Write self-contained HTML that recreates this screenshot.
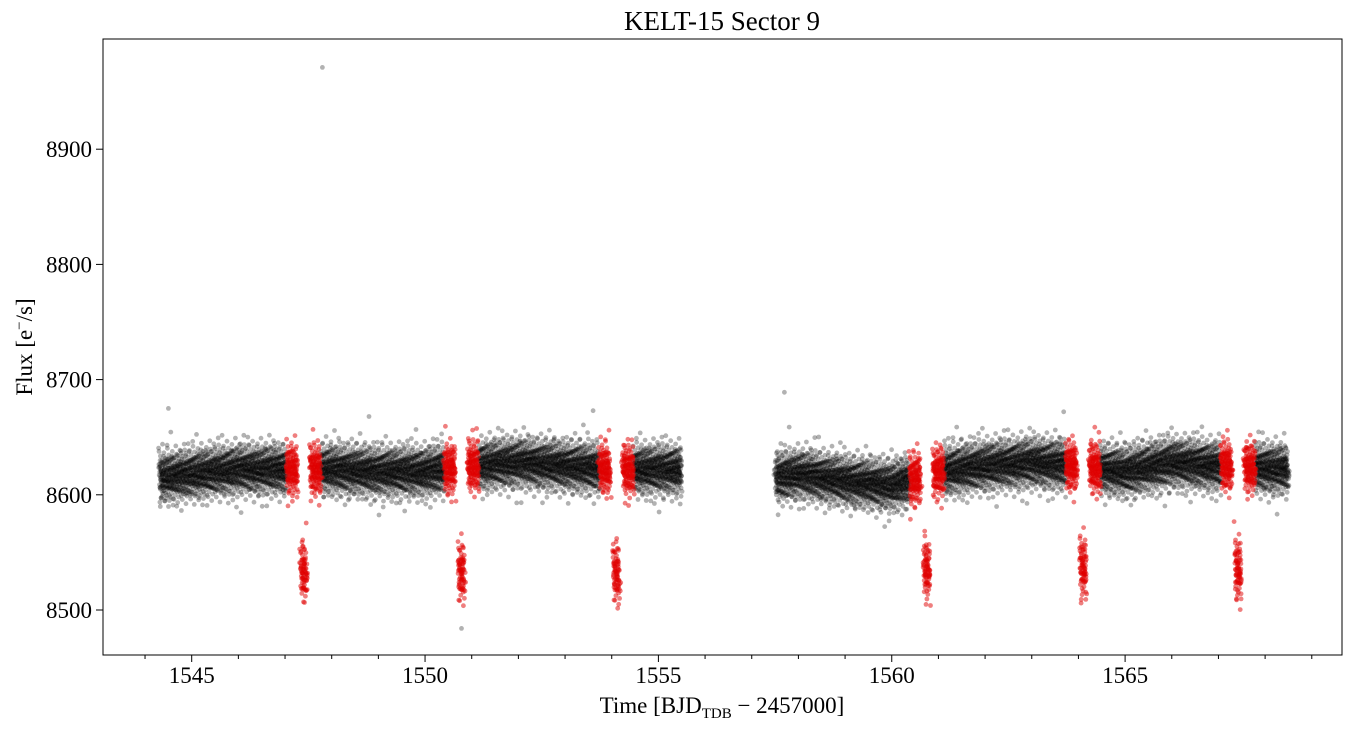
<!DOCTYPE html>
<html><head><meta charset="utf-8"><style>
body{margin:0;background:#fff;}
svg text{font-family:"Liberation Serif",serif;fill:#000;}
</style></head><body>
<svg id="chart" width="1353" height="731">
<rect x="0" y="0" width="1353" height="731" fill="#fff"/>
<g id="marks"></g>
<rect x="103" y="39" width="1239" height="616" fill="none" stroke="#000" stroke-width="1"/>
<g id="xaxis"></g>
<g id="yaxis"></g>
<text x="722" y="30" font-size="27" text-anchor="middle">KELT-15 Sector 9</text>
<text x="722" y="713" font-size="23" text-anchor="middle">Time [BJD<tspan font-size="15" dy="5">TDB</tspan><tspan dy="-5"> − 2457000]</tspan></text>
<text transform="translate(32,347) rotate(-90)" font-size="23" text-anchor="middle">Flux [e<tspan font-size="15" dy="-8">−</tspan><tspan dy="8">/s]</tspan></text>
</svg>
<script>
const xTicks=[1545,1550,1555,1560,1565];
const yTicks=[8500,8600,8700,8800,8900];
const binTimes1=[1544.3,1545,1546,1547,1548,1549,1550,1551,1552,1553,1554,1555.5];
const binFlux1=[8615,8618,8622,8622,8622,8620,8620,8625,8628,8625,8622,8622];
const binTimes2=[1557.5,1558,1559,1560,1561,1562,1563,1564,1565,1566,1567,1568.5];
const binFlux2=[8615,8618,8612,8608,8620,8625,8628,8625,8620,8628,8625,8622];
const transitTimes=[1547.4,1550.78,1554.1,1560.75,1564.1,1567.42];
const transitFlux=[8533,8533,8532,8535,8537,8535];
const outlierTimes=[1547.8,1557.7,1544.5,1550.78,1548.8,1553.6];
const outlierFlux=[8971,8689,8675,8484,8668,8673];

const X=t=>191.7+(t-1545)*46.67;
const Y=f=>610-(f-8500)*1.152;
const NS='http://www.w3.org/2000/svg';
const xa=document.getElementById('xaxis'),ya=document.getElementById('yaxis'),mk=document.getElementById('marks');
function line(g,x1,y1,x2,y2){const l=document.createElementNS(NS,'line');l.setAttribute('x1',x1);l.setAttribute('y1',y1);l.setAttribute('x2',x2);l.setAttribute('y2',y2);l.setAttribute('stroke','#000');g.appendChild(l);return l;}
for(let t=1544;t<=1569;t++){const l=line(xa,X(t),655,X(t),xTicks.includes(t)?662:659);

}
xTicks.forEach(t=>{const s=document.createElementNS(NS,'text');s.setAttribute('x',X(t));s.setAttribute('y',683);s.setAttribute('font-size','23');s.setAttribute('text-anchor','middle');s.textContent=t;


xa.appendChild(s);});
yTicks.forEach(v=>{const l=line(ya,96,Y(v),103,Y(v));


const s=document.createElementNS(NS,'text');s.setAttribute('x',92);s.setAttribute('y',Y(v)+8);s.setAttribute('font-size','23');s.setAttribute('text-anchor','end');s.textContent=v;


ya.appendChild(s);});
function interp(ts,fs,t){for(let i=0;i<ts.length-1;i++){if(t<=ts[i+1])return fs[i]+(fs[i+1]-fs[i])*(t-ts[i])/(ts[i+1]-ts[i]);}return fs[fs.length-1];}
let k=0;
function jitter(){k++;const u=((0.5+k*0.7548776662)%1)+1e-6,v=(0.5+k*0.5698402910)%1;return Math.sqrt(-2*Math.log(u))*Math.cos(2*Math.PI*v);}
const blk=[],red=[];
function seg(ts,fs){const step=1/560;for(let t=ts[0];t<=ts[ts.length-1];t+=step){
let f=interp(ts,fs,t);let isRed=false,sig=11;
for(let j=0;j<transitTimes.length;j++){const d=t-transitTimes[j];
if(Math.abs(d)<0.37){isRed=true;if(Math.abs(d)<0.07){f=transitFlux[j];sig=13;}else if(Math.abs(d)<0.13){f=null;}}}
if(f===null)continue;
const p=[X(t)+jitter()*0.6,Y(f+jitter()*sig)];(isRed?red:blk).push(p);}}
seg(binTimes1,binFlux1);seg(binTimes2,binFlux2);
outlierTimes.forEach((t,i)=>blk.push([X(t),Y(outlierFlux[i])]));
function draw(pts,col,op,name){const g=document.createElementNS(NS,'g');g.setAttribute('fill',col);g.setAttribute('fill-opacity',op);


pts.forEach(p=>{const c=document.createElementNS(NS,'circle');c.setAttribute('cx',p[0].toFixed(1));c.setAttribute('cy',p[1].toFixed(1));c.setAttribute('r','2.4');g.appendChild(c);});mk.appendChild(g);}
draw(blk,'#000','0.3','flux-points');
draw(red,'#e00000','0.5','transit-points');
</script>
</body></html>
